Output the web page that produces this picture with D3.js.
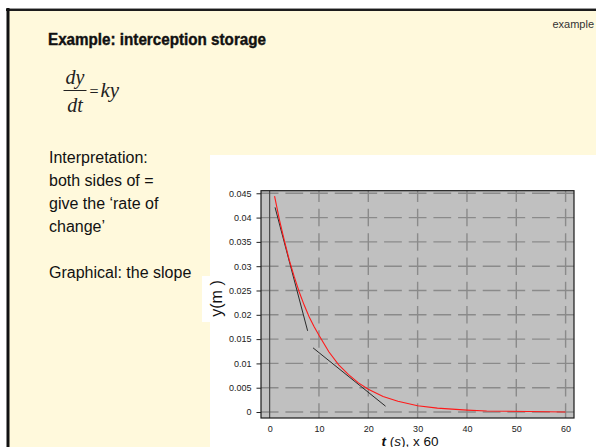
<!DOCTYPE html>
<html>
<head>
<meta charset="utf-8">
<script src="https://cdn.jsdelivr.net/npm/d3@7"></script>
<style>
  html, body { margin: 0; padding: 0; background: #ffffff; }
  svg { display: block; font-family: "Liberation Sans", Arial, sans-serif; }
</style>
</head>
<body>
<svg id="slide" width="596" height="447"></svg>
<script>
// Storage y (m) against time t (s, x 60): exponential drain of interception storage
const timeT  = [1, 2, 3, 4, 5, 6, 7, 8, 9, 10, 12, 14, 16, 18, 20, 23, 26, 30, 34, 40, 44, 52.5, 60];
const storeY = [0.0444, 0.0395, 0.0352, 0.0312, 0.0278, 0.0247, 0.0220, 0.0196, 0.0176, 0.0158,
                0.0124, 0.0097, 0.0077, 0.0060, 0.0047, 0.0032, 0.0022, 0.0013, 0.0008, 0.0004,
                0.0002, 0.0001, 0.0000];

// Two tangent segments showing the slope (rate of change)
const tangentA = [[1.1, 0.0421], [7.7, 0.0167]];
const tangentB = [[8.8, 0.0132], [23.5, 0.0012]];

// Axis ticks
const xTicks = [0, 10, 20, 30, 40, 50, 60];
const yTicks = [0, 0.005, 0.01, 0.015, 0.02, 0.025, 0.03, 0.035, 0.04, 0.045];
const yTickLabels = ["0", "0.005", "0.01", "0.015", "0.02", "0.025", "0.03", "0.035", "0.04", "0.045"];

// Slide text
const titleText = "Example: interception storage";
const bodyLines = ["Interpretation:", "both sides of =", "give the \u2018rate of", "change\u2019", "", "Graphical: the slope"];

const SANS = "'Liberation Sans', Arial, sans-serif";
const SERIF = "'Liberation Serif', 'Times New Roman', serif";

const svg = d3.select("#slide");

// ---- slide background and frame ----
svg.append("rect").attr("x", 7).attr("y", 8).attr("width", 600).attr("height", 450).attr("fill", "#fff9dc");
svg.append("line").attr("x1", 6).attr("x2", 596).attr("y1", 8.5).attr("y2", 8.5).attr("stroke", "#9a9a9a").attr("stroke-width", 1);
svg.append("line").attr("x1", 6).attr("x2", 596).attr("y1", 10).attr("y2", 10).attr("stroke", "#1c1c1c").attr("stroke-width", 2);
svg.append("line").attr("x1", 8).attr("x2", 8).attr("y1", 8).attr("y2", 447).attr("stroke", "#111").attr("stroke-width", 3);

svg.append("text").attr("x", 594).attr("y", 28).attr("text-anchor", "end")
  .style("font-family", SANS).attr("font-size", 11).attr("fill", "#333").text("example");

svg.append("text").attr("x", 48).attr("y", 45).style("font-family", SANS)
  .attr("font-size", 16.5).attr("font-weight", "bold").attr("stroke", "#111").attr("stroke-width", 0.4)
  .attr("fill", "#111").attr("textLength", 218).attr("lengthAdjust", "spacingAndGlyphs").text(titleText);

// ---- equation dy/dt = ky ----
const eq = svg.append("g").attr("fill", "#222");
const eqText = (tx, ty, s, size, italic, anchor) => eq.append("text")
  .attr("x", tx).attr("y", ty).attr("text-anchor", anchor || "start")
  .style("font-family", SERIF).style("font-style", italic ? "italic" : "normal")
  .attr("font-size", size).text(s);
eqText(75, 83.5, "dy", 20, true, "middle");
eq.append("line").attr("x1", 63.5).attr("x2", 86.5).attr("y1", 90.5).attr("y2", 90.5).attr("stroke", "#222").attr("stroke-width", 1);
eqText(75, 111.5, "dt", 20, true, "middle");
eqText(89.5, 96.5, "=", 16, false);
eqText(100.5, 97, "ky", 21, true);

// ---- body text ----
svg.append("g").selectAll("text").data(bodyLines).join("text")
  .attr("x", 49).attr("y", (d, i) => 163 + i * 23).style("font-family", SANS)
  .attr("font-size", 16).attr("fill", "#111").text(d => d);

// ---- chart panel ----
svg.append("rect").attr("x", 210).attr("y", 155).attr("width", 386).attr("height", 292).attr("fill", "#ffffff");

const plot = { left: 261, right: 574, top: 190.7, bottom: 418 };
const x = d3.scaleLinear().domain([-1.75, 61.7]).range([plot.left, plot.right]);
const y = d3.scaleLinear().domain([-0.00123, 0.04553]).range([plot.bottom, plot.top]);

svg.append("rect").attr("x", plot.left).attr("y", plot.top)
  .attr("width", plot.right - plot.left).attr("height", plot.bottom - plot.top)
  .attr("fill", "#c0c0c0");

// dashed grid: horizontal dashes centred on the vertical gridlines, vertical dashes on the horizontal ones
const grid = svg.append("g").attr("stroke", "#8a8a8a").attr("stroke-width", 1.4).attr("fill", "none");
const hPeriod = (x(10) - x(0)) / 2, hDash = hPeriod * 0.72;
const hOffset = -(((x(0) - hDash / 2 - plot.left) % hPeriod) + hPeriod) % hPeriod;
grid.selectAll(".hg").data(yTicks).join("line")
  .attr("x1", plot.left).attr("x2", plot.right)
  .attr("y1", d => y(d)).attr("y2", d => y(d))
  .attr("stroke-dasharray", `${hDash} ${hPeriod - hDash}`)
  .attr("stroke-dashoffset", hOffset);
const vPeriod = y(0) - y(0.005), vDash = vPeriod * 0.72;
const vOffset = -(((y(0.045) - vDash / 2 - plot.top) % vPeriod) + vPeriod) % vPeriod;
grid.selectAll(".vg").data(xTicks.filter(d => d > 0)).join("line")
  .attr("x1", d => x(d)).attr("x2", d => x(d))
  .attr("y1", plot.top).attr("y2", plot.bottom)
  .attr("stroke-dasharray", `${vDash} ${vPeriod - vDash}`)
  .attr("stroke-dashoffset", vOffset);

// solid line at t = 0
svg.append("line").attr("x1", x(0)).attr("x2", x(0)).attr("y1", plot.top).attr("y2", plot.bottom)
  .attr("stroke", "#4a4a4a").attr("stroke-width", 1.2);

// tangents
const line = d3.line().x(d => x(d[0])).y(d => y(d[1]));
[tangentA, tangentB].forEach(seg => {
  svg.append("path").attr("d", line(seg)).attr("fill", "none").attr("stroke", "#2a2a2a").attr("stroke-width", 1);
});

// storage curve
const curve = timeT.map((t, i) => [t, storeY[i]]);
svg.append("path").attr("d", line(curve)).attr("fill", "none").attr("stroke", "#ff1a1a").attr("stroke-width", 1.1);

// plot frame
svg.append("rect").attr("x", plot.left).attr("y", plot.top)
  .attr("width", plot.right - plot.left).attr("height", plot.bottom - plot.top)
  .attr("fill", "none").attr("stroke", "#1a1a1a").attr("stroke-width", 1.2);

// axes
const yAxis = d3.axisLeft(y).tickValues(yTicks).tickSize(4.5).tickPadding(5)
  .tickFormat((d, i) => yTickLabels[i]);
const gy = svg.append("g").attr("transform", `translate(${plot.left},0)`).call(yAxis);
gy.select(".domain").remove();
gy.selectAll("line").attr("stroke", "#222");
gy.selectAll("text").attr("font-size", 9).attr("fill", "#222").style("font-family", SANS);

const xAxis = d3.axisBottom(x).tickValues(xTicks).tickSize(0).tickPadding(8);
const gx = svg.append("g").attr("transform", `translate(0,${plot.bottom})`).call(xAxis);
gx.select(".domain").remove();
gx.selectAll("text").attr("font-size", 9).attr("fill", "#222").style("font-family", SANS);

// axis titles
const xt = svg.append("text").attr("x", 410).attr("y", 445.5).attr("text-anchor", "middle")
  .style("font-family", SANS).attr("font-size", 13.5).attr("fill", "#111");
xt.append("tspan").attr("font-weight", "bold").style("font-style", "italic").text("t");
xt.append("tspan").text(" (");
xt.append("tspan").style("font-style", "italic").text("s");
xt.append("tspan").text("), x 60");

svg.append("rect").attr("x", 202).attr("y", 276).attr("width", 21).attr("height", 46).attr("fill", "#ffffff");
svg.append("text").attr("transform", "translate(222,298.5) rotate(-90)").attr("text-anchor", "middle")
  .style("font-family", SANS).attr("font-size", 16).attr("fill", "#111").text("y(m )");
</script>
</body>
</html>
